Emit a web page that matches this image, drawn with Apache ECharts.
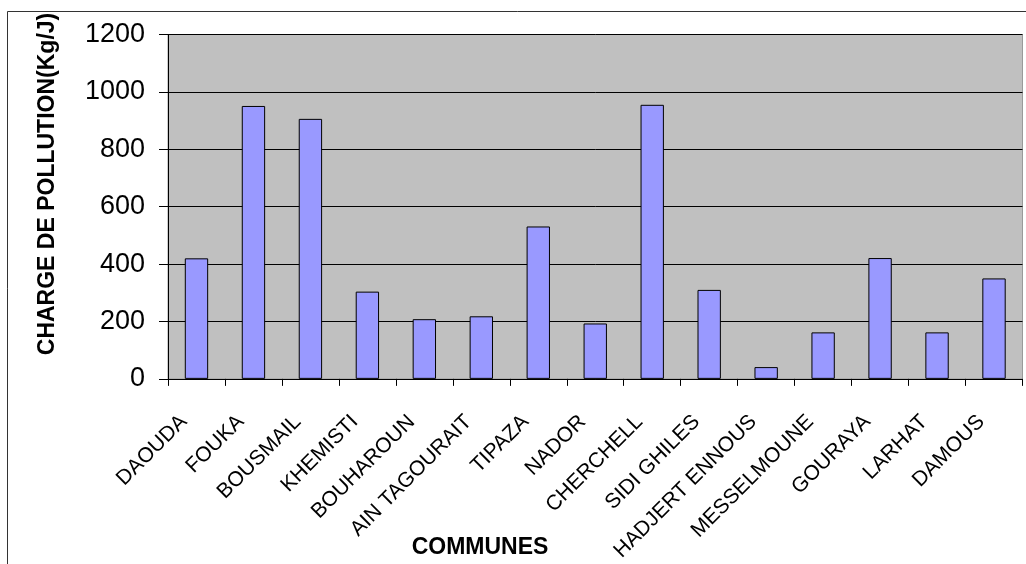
<!DOCTYPE html>
<html>
<head>
<meta charset="utf-8">
<script src="https://cdn.jsdelivr.net/npm/echarts@6/dist/echarts.min.js"></script>
<style>
html,body{margin:0;padding:0;background:#fff;}
#chart{width:1026px;height:564px;}
</style>
</head>
<body>
<div id="chart"></div>
<script>
var categories = ['DAOUDA','FOUKA','BOUSMAIL','KHEMISTI','BOUHAROUN','AIN TAGOURAIT','TIPAZA','NADOR','CHERCHELL','SIDI GHILES','HADJERT ENNOUS','MESSELMOUNE','GOURAYA','LARHAT','DAMOUS'];
var values = [420, 951, 906, 304, 208, 218, 531, 193, 955, 310, 41, 162, 421, 162, 350];
var yTicks = [0, 200, 400, 600, 800, 1000, 1200];
var yAxisTitle = 'CHARGE DE POLLUTION(Kg/J)';
var xAxisTitle = 'COMMUNES';

var chart = echarts.init(document.getElementById('chart'));
var font = 'Liberation Sans, Arial, sans-serif';
chart.setOption({
  animation: false,
  backgroundColor: '#ffffff',
  grid: {
    left: 168, right: 3.5, top: 34.5, bottom: 184.5,
    show: true, backgroundColor: '#C0C0C0', borderColor: '#9a9a9a', borderWidth: 1
  },
  graphic: [
    { type: 'rect', shape: { x: 7.5, y: 11.5, width: 1040, height: 580 }, style: { fill: 'none', stroke: '#333', lineWidth: 1 }, silent: true },
    { type: 'text', x: 48, y: 184, rotation: Math.PI / 2,
      style: { text: yAxisTitle, font: 'bold 23px ' + font, fill: '#000', textAlign: 'center', textVerticalAlign: 'middle' } },
    { type: 'text', x: 480, y: 548,
      style: { text: xAxisTitle, font: 'bold 23px ' + font, fill: '#000', textAlign: 'center', textVerticalAlign: 'middle' } }
  ],
  xAxis: {
    type: 'category',
    data: categories,
    boundaryGap: true,
    axisLine: { lineStyle: { color: '#000', width: 1 } },
    axisTick: { show: true, length: 7, alignWithLabel: false, lineStyle: { color: '#000' } },
    axisLabel: { rotate: 45, interval: 0, margin: 27, padding: [0, 18, 0, 0], color: '#000', fontFamily: font, fontSize: 21 },
    splitLine: { show: false }
  },
  yAxis: {
    type: 'value',
    min: yTicks[0], max: yTicks[yTicks.length - 1], interval: 200,
    axisLine: { show: true, lineStyle: { color: '#000', width: 1 } },
    axisTick: { show: true, length: 9, lineStyle: { color: '#000' } },
    axisLabel: { margin: 23, color: '#000', fontFamily: font, fontSize: 27, formatter: function (v) { return String(v); } },
    splitLine: { show: true, lineStyle: { color: '#000', width: 1 } }
  },
  series: [{
    type: 'bar',
    data: values,
    barWidth: '41%',
    itemStyle: { color: '#9999FF', borderColor: '#000', borderWidth: 1 }
  }]
});
</script>
</body>
</html>
